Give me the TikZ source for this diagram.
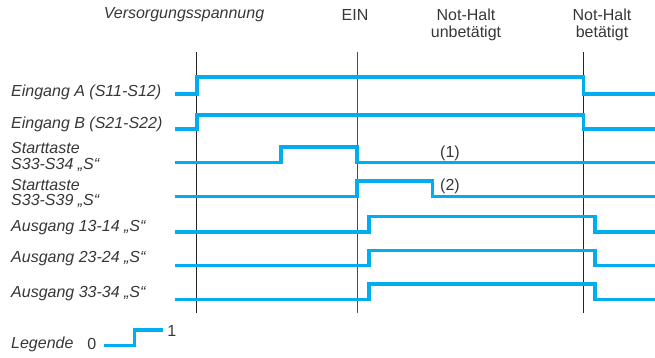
\documentclass[tikz,border=0pt]{standalone}
\usepackage{fontspec}
\setmainfont{Liberation Sans}
\begin{document}
\definecolor{sig}{RGB}{0,174,239}
\definecolor{txt}{RGB}{55,55,55}
\tikzset{
  wave/.style={draw=sig, line width=3.2pt, line join=miter},
  marker/.style={draw=black!85, line width=0.9pt},
  lbl/.style={anchor=base west, inner sep=0pt, text=txt, font=\fontsize{16}{16}\selectfont\itshape},
  hdr/.style={anchor=base, inner sep=0pt, text=txt, font=\fontsize{16}{17.5}\selectfont, align=center},
  hdri/.style={anchor=base, inner sep=0pt, text=txt, font=\fontsize{16}{17.5}\selectfont\itshape},
  num/.style={anchor=base, inner sep=0pt, text=txt, font=\fontsize{16}{16}\selectfont}
}
\begin{tikzpicture}[x=1pt,y=-1pt]
\useasboundingbox (0,0) rectangle (655,358);
% header texts
\node[hdri] (hv) at (184,19) {Versorgungsspannung};
\node[hdr] (hein) at (355,20.7) {EIN};
\node[hdr] (hnu1) at (466,20.7) {Not-Halt};
\node[hdr] (hnu2) at (466,38) {unbetätigt};
\node[hdr] (hnb1) at (602,20.7) {Not-Halt};
\node[hdr] (hnb2) at (602,38) {betätigt};
% vertical markers
\coordinate (v1t) at (196.5,52); \coordinate (v1b) at (196.5,313);
\coordinate (v2t) at (357,52);   \coordinate (v2b) at (357,313);
\coordinate (v3t) at (583.5,52); \coordinate (v3b) at (583.5,313);
\draw[marker] (v1t) -- (v1b);
\draw[marker, draw=black!70] (v2t) -- (v2b);
\draw[marker] (v3t) -- (v3b);
% left labels
\node[lbl] (la) at (11,96.2) {Eingang A (S11-S12)};
\node[lbl] (lb) at (11,128.2) {Eingang B (S21-S22)};
\node[lbl] (ls1a) at (11,153.5) {Starttaste};
\node[lbl] (ls1b) at (11,169) {S33-S34 „S“};
\node[lbl] (ls2a) at (11,190) {Starttaste};
\node[lbl] (ls2b) at (11,205.5) {S33-S39 „S“};
\node[lbl] (lo1) at (11,231.3) {Ausgang 13-14 „S“};
\node[lbl] (lo2) at (11,262) {Ausgang 23-24 „S“};
\node[lbl] (lo3) at (11,297) {Ausgang 33-34 „S“};
% waveforms
\draw[wave] (175,94) -- (197,94) -- (197,77) -- (583.5,77) -- (583.5,94) -- (655,94);
\draw[wave] (175,129) -- (197,129) -- (197,115) -- (583.5,115) -- (583.5,129) -- (655,129);
\draw[wave] (175,162.7) -- (281,162.7) -- (281,147) -- (357,147) -- (357,162.7) -- (655,162.7);
\draw[wave] (175,196.5) -- (357,196.5) -- (357,181) -- (432.7,181) -- (432.7,196.5) -- (655,196.5);
\draw[wave] (175,232) -- (369,232) -- (369,216.7) -- (595,216.7) -- (595,232) -- (655,232);
\draw[wave] (175,265.7) -- (369,265.7) -- (369,250.7) -- (595,250.7) -- (595,265.7) -- (655,265.7);
\draw[wave] (175,299.3) -- (369,299.3) -- (369,284) -- (595,284) -- (595,299.3) -- (655,299.3);
% annotations
\node[num] (n1) at (450,157.5) {(1)};
\node[num] (n2) at (450,190.5) {(2)};
% legend
\node[lbl] (lleg) at (11,348) {Legende};
\node[num] (l0) at (91.7,349.5) {0};
\node[num] (l1) at (171.7,336.7) {1};
\draw[wave] (104,345.7) -- (134.5,345.7) -- (134.5,330) -- (163,330);
\end{tikzpicture}
\end{document}
